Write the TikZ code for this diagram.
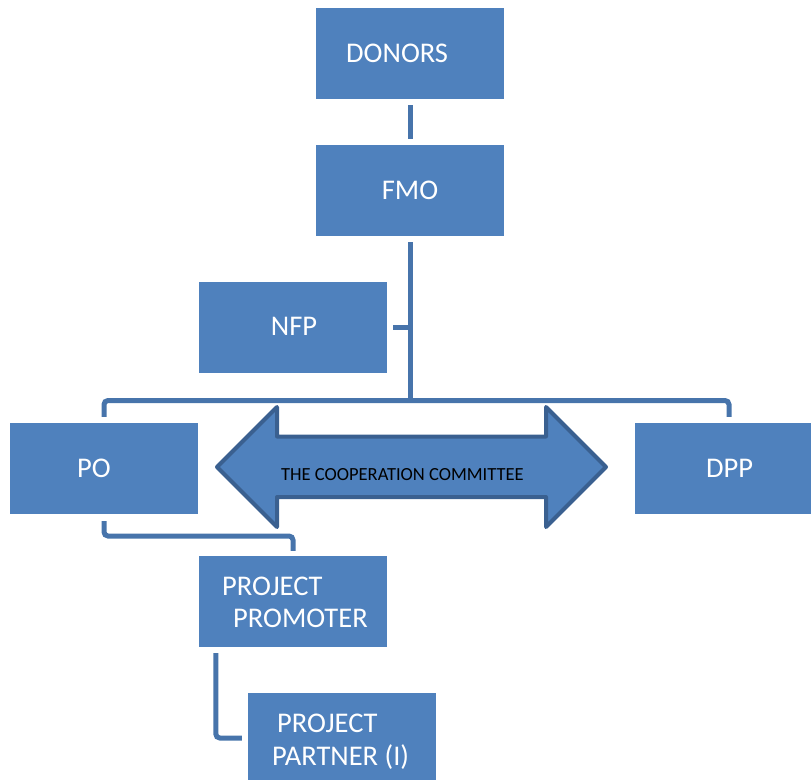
\documentclass[tikz,border=0pt]{standalone}
\usepackage{fontspec}
\setmainfont{Carlito}
\definecolor{boxblue}{HTML}{4F81BD}
\definecolor{linkblue}{HTML}{4774AB}
\definecolor{arrowedge}{HTML}{3A6090}
\begin{document}
\begin{tikzpicture}[x=1pt,y=-1pt,
  box/.style={draw=none,fill=boxblue,minimum width=188pt,minimum height=91pt,inner sep=0pt},
  conn/.style={draw=linkblue,line width=5pt,rounded corners=4pt},
  lbl/.style={text=white,inner sep=0pt,font=\fontsize{28.5}{32}\selectfont},
  lblw/.style={lbl,anchor=base west},
  lblc/.style={lbl,anchor=base}]
\useasboundingbox (0,0) rectangle (811,780);
% boxes
\node[box] (donors) at (410,53.5) {};
\node[box] (fmo) at (410,190.5) {};
\node[box] (nfp) at (293,327.5) {};
\node[box] (po) at (104,468.5) {};
\node[box,minimum width=176pt] (dpp) at (723,468.5) {};
\node[box] (pp) at (293,601.5) {};
\node[box,minimum height=87pt] (ppart) at (342,736.5) {};
\coordinate (hub) at (410,400.5);
\coordinate (mid) at (104,536);
% connectors
\draw[conn,rounded corners=0pt] ([yshift=-6pt]donors.south) -- ([yshift=6pt]fmo.north);
\draw[conn,rounded corners=0pt] ([yshift=-6pt]fmo.south) -- (hub);
\draw[conn,rounded corners=0pt] ([xshift=6pt]nfp.east) -- (nfp.east -| hub);
\draw[conn] ([yshift=6pt]po.north) -- (po.north |- hub) -- ([xshift=6pt]dpp.north |- hub) -- ([xshift=6pt,yshift=6pt]dpp.north);
\draw[conn] ([yshift=-7pt]po.south) -- (mid) -- (mid -| pp.north) -- ([yshift=5pt]pp.north);
\draw[conn] ([xshift=17pt,yshift=-6pt]pp.south west) |- ([xshift=-6pt,yshift=-1.5pt]ppart.west);
% double arrow
\draw[fill=boxblue,draw=arrowedge,line width=4pt,line join=round]
  (217,467) -- (277,407) -- (277,436.5) -- (546,436.5) -- (546,407) -- (606,467)
  -- (546,527) -- (546,497) -- (277,497) -- (277,527) -- cycle;
\node[anchor=base west,inner sep=0pt,font=\fontsize{18.5}{22}\selectfont] (coop) at (281,480) {THE COOPERATION COMMITTEE};
% labels
\node[lblw] (donorsT) at (346,62) {DONORS};
\node[lblc] (fmoT) at (410,199) {FMO};
\node[lblc] (nfpT) at (294,335) {NFP};
\node[lblc] (poT) at (94,477) {PO};
\node[lblc] (dppT) at (729.5,477) {DPP};
\node[lblw] (ppT1) at (222,595) {PROJECT};
\node[lblw] (ppT2) at (233,627) {PROMOTER};
\node[lblw] (ppartT1) at (277,732) {PROJECT};
\node[lblw] (ppartT2) at (272,765) {PARTNER (I)};
\end{tikzpicture}
\end{document}
